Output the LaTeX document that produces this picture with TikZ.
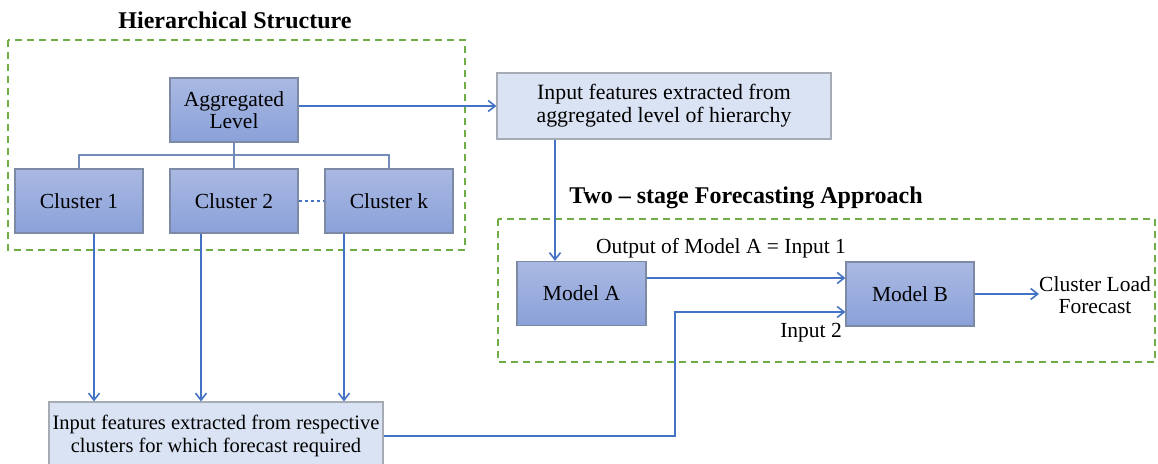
\documentclass[tikz,border=0pt]{standalone}
\usepackage{fontspec}
\setmainfont{Liberation Serif}
\usetikzlibrary{arrows.meta}
\definecolor{lineblue}{HTML}{4472C4}
\definecolor{grpgreen}{HTML}{70AD47}
\definecolor{boxtop}{HTML}{AAB9E2}
\definecolor{boxbot}{HTML}{8AA1D9}
\definecolor{boxedge}{HTML}{7C8AA6}
\definecolor{lightfill}{HTML}{DAE3F3}
\definecolor{lightedge}{HTML}{A6ABB4}
\tikzset{
  body/.style={font=\fontsize{21.5}{22.5}\selectfont},
  darkbox/.style={body, draw=boxedge, line width=1.2pt, top color=boxtop, bottom color=boxbot,
    minimum width=128pt, minimum height=64pt, inner sep=0pt, align=center},
  lightbox/.style={body, draw=lightedge, line width=1.2pt, fill=lightfill,
    minimum width=334pt, minimum height=66pt, inner sep=0pt, align=center},
  grp/.style={draw=grpgreen, line width=2pt, dash pattern=on 7pt off 5pt},
  heading/.style={font=\fontsize{24}{28}\selectfont\bfseries},
  lbl/.style={body, inner sep=0pt, align=center},
  conn/.style={draw=lineblue, line width=2pt},
  tree/.style={draw=lineblue!80!black!70, line width=1.3pt},
  arr/.style={conn, -{Straight Barb[length=7pt,width=11pt,line width=1.6pt]}}
}
\begin{document}
\begin{tikzpicture}[x=1pt, y=-1pt]
\useasboundingbox (0,0) rectangle (1158,463);

% group frames and their headings
\draw[grp] (8,40) rectangle (465,250);
\draw[grp] (498,219) rectangle (1155,362);
\node[heading] (h1) at (235,20) {Hierarchical Structure};
\node[heading] (h2) at (746,198) {Two -- stage Forecasting Approach};

% hierarchy
\node[darkbox] (agg) at (234,110) {Aggregated\\Level};
\node[darkbox] (c1) at (79,201) {Cluster 1};
\node[darkbox] (c2) at (234,201) {Cluster 2};
\node[darkbox] (ck) at (389,201) {Cluster k};
\coordinate (fork) at (234,155);
\draw[tree] (agg.south) -- (fork);
\draw[tree] (c1.north) |- (fork) -| (ck.north);
\draw[tree] (fork) -- (c2.north);
\draw[conn, line width=2.6pt, dash pattern=on 3pt off 3pt] (c2.east) -- (ck.west);

% feature boxes
\node[lightbox, font=\fontsize{21.8}{23}\selectfont] (top) at (664,106) {Input features extracted from\\aggregated level of hierarchy};
\node[lightbox, minimum height=68pt, font=\fontsize{20.5}{22.5}\selectfont] (bot) at (216,436) {Input features extracted from respective\\clusters for which forecast required};

% models
\node[darkbox, minimum width=129pt] (ma) at (581.5,293.5) {Model A};
\node[darkbox] (mb) at (910,294) {Model B};
\node[lbl] (out) at (1095,295) {Cluster Load\\Forecast};
\node[lbl] (l1) at (721,248) {Output of Model A = Input 1};
\node[lbl] (l2) at (811,333) {Input 2};

% connectors
\draw[arr] (agg.east |- top.west) -- (top.west);
\draw[arr] ([xshift=-26.5pt]ma.north |- top.south) -- ([xshift=-26.5pt]ma.north);
\draw[arr] ([xshift=15pt]c1.south) -- ([xshift=15pt]c1.south |- bot.north);
\draw[arr] ([xshift=-33pt]c2.south) -- ([xshift=-33pt]c2.south |- bot.north);
\draw[arr] ([xshift=-45pt]ck.south) -- ([xshift=-45pt]ck.south |- bot.north);
\draw[arr] ([yshift=15.5pt]ma.east) -- ([yshift=15.5pt]ma.east -| mb.west);
\coordinate (bend) at (675,312);
\draw[arr] (bot.east) -| (bend) -- (bend -| mb.west);
\draw[arr] (mb.east) -- (mb.east -| out.west);
\end{tikzpicture}
\end{document}
